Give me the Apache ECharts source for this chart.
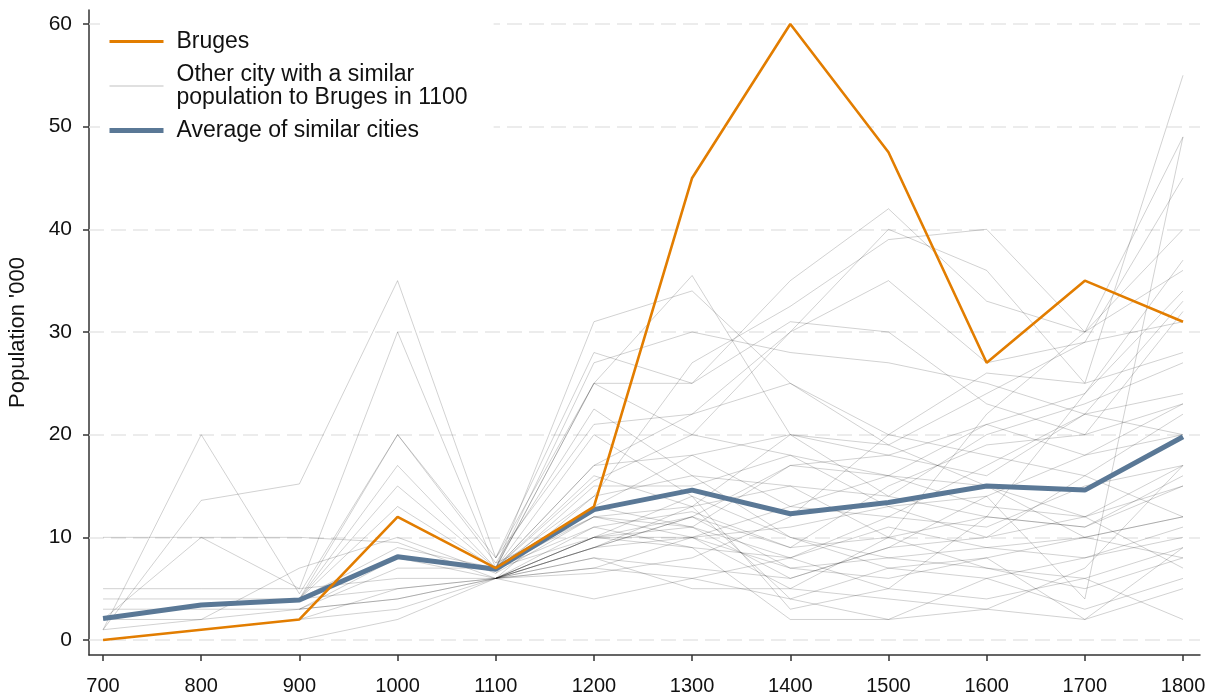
<!DOCTYPE html>
<html>
<head>
<meta charset="utf-8">
<script src="https://cdn.jsdelivr.net/npm/echarts@6/dist/echarts.min.js"></script>
<style>
  html, body { margin: 0; padding: 0; background: #fff; }
  #main { width: 1214px; height: 694px; }
</style>
</head>
<body>
<div id="main"></div>
<script>
// years on the x axis
const years = [700, 800, 900, 1000, 1100, 1200, 1300, 1400, 1500, 1600, 1700, 1800];
const yTicks = [0, 10, 20, 30, 40, 50, 60];

// population in thousands
const bruges = [0, 1, 2, 12, 7, 13, 45, 60, 47.5, 27, 35, 31];
const average = [2.1, 3.4, 3.9, 8.1, 6.9, 12.7, 14.6, 12.3, 13.4, 15, 14.6, 19.8];

// other cities with a similar population in 1100 (null = no data)
const otherCities = [
  [10, 10, 10, 9.5, 6, 10, 12, 9, 10, 12, 11, 16],
  [1, 20, 4.5, 20, 8, 25, 35.5, 20, 14, 12, 11, 15],
  [1, 13.6, 15.2, 35, 8, 28, 25, 35, 42, 33, 30, 49],
  [2, 10, 5, 30, 7, 31, 34, 25, 20, 26, 25, 55],
  [5, 5, 5, 6, 6, 9, 12, 7, 6, 8, 10, 12],
  [4, 4, 4, 5, 6, 7, 10, 5, 4, 3, 2, 5],
  [3, 3, 3, 4, 6, 10, 9, 8, 12, 11, 15, 17],
  [2, 2, 3, 4, 6, 8, 7, 6, 9, 10, 16, 22],
  [1, 2, 7, 10, 6.5, 12, 10, 11, 13, 14, 18, 20],
  [null, null, 0, 2, 6, 4, 6, 8, 5, 4, 6, 9],
  [null, null, 4, 20, 7.5, 22.5, 16, 15, 10, 7, 5, 8],
  [null, null, 4, 17, 7, 20, 14, 10, 7, 6, 8, 10],
  [null, null, 4, 15, 7, 17, 18, 13, 12, 17, 22, 24],
  [null, null, 4, 13, 7, 16, 13, 20, 19, 24, 29, 31],
  [null, null, 4, 9, 7, 15.5, 20, 30, 40, 36, 25, 28],
  [null, null, 3, 8, 6, 14, 27, 32.5, 39, 40, 30, 36],
  [null, null, 3, 7, 7, 13, 11, 17, 18, 21, 24, 34],
  [null, null, 2, 5, 6, 11, 12.5, 9, 15, 19, 20, 23],
  [null, null, 2, 3, 6, 10, 10, 7, 8, 9, 8, 11],
  [null, null, null, null, 7, 27, 30, 28, 27, 25, 22, 20],
  [null, null, null, null, 7, 25, 20, 18, 16, 15, 12, 7],
  [null, null, null, null, 8, 21, 22, 30, 35, 27, 29, 45],
  [null, null, null, null, 7, 25, 25, 31, 30, 23, 20, 32],
  [null, null, null, null, 6, 6.5, 8, 12, 20, 18, 16, 12],
  [null, null, null, null, 6, 9, 13, 4, 2, 6, 3, 6],
  [null, null, null, null, 7, 11, 9, 2, 2, 3, 7, 17],
  [null, null, null, null, 7, 12, 11, 6, 9, 14, 4, 49],
  [null, null, null, null, 6, 10, 14, 3, 5, 12, 24, 37],
  [null, null, null, null, 7, 13, 18, 20, 18, 16, 22, 33],
  [null, null, null, null, 6, 8, 5, 5, 10, 22, 30, 40],
  [null, null, null, null, 7, 14, 16, 10, 8, 7, 6, 2],
  [null, null, null, null, 7.5, 12, 13, 15, 14, 20, 23, 27],
  [null, null, null, null, 6, 9, 12, 17, 16, 13, 12, 15],
  [null, null, null, null, 7, 10, 11, 8, 11, 9, 10, 8],
  [null, null, null, null, 6, 7, 6, 4, 7, 8, 2, 9],
  [null, null, null, null, 6.5, 15, 15, 18, 13, 10, 12, 17],
  [null, null, null, null, 7, 17, 22, 25, 19, 15, 10, 12],
  [null, null, null, null, 6, 9, 10, 13, 16, 21, 18, 23]
];

const otherName = 'Other city with a similar population to Bruges in 1100';
const fontFamily = '"Liberation Sans", Arial, sans-serif';

function toPairs(values) {
  return years.map(function (y, i) {
    return [y, values[i] === null ? '-' : values[i]];
  });
}

let chart = echarts.init(document.getElementById('main'));

let series = otherCities.map(function (city, i) {
  let s = {
    name: otherName,
    type: 'line',
    symbol: 'none',
    silent: true,
    z: 2,
    lineStyle: { width: 1, color: 'rgba(0,0,0,0.18)' },
    data: toPairs(city)
  };
  if (i === 0) {
    // dashed horizontal gridlines
    s.markLine = {
      silent: true,
      z: 1,
      symbol: ['none', 'none'],
      label: { show: false },
      lineStyle: { type: [15, 7], color: '#e6e6e6', width: 1.5 },
      emphasis: { disabled: true },
      data: yTicks.map(function (v) { return { yAxis: v }; })
    };
  }
  return s;
});

series.push({
  name: 'Average of similar cities',
  type: 'line',
  symbol: 'none',
  z: 3,
  lineStyle: { width: 5, color: '#5a7896' },
  data: toPairs(average)
});
series.push({
  name: 'Bruges',
  type: 'line',
  symbol: 'none',
  z: 4,
  lineStyle: { width: 2.6, color: '#e27d00' },
  data: toPairs(bruges)
});

let option = {
  animation: false,
  backgroundColor: '#fff',
  grid: { left: 89, right: 14, top: 10, bottom: 39, outerBoundsMode: 'none', containLabel: false },
  legend: {
    orient: 'vertical',
    left: 100,
    top: 12,
    padding: [18, 26, 10, 7],
    backgroundColor: '#fff',
    itemWidth: 54,
    itemHeight: 14,
    itemGap: 10,
    selectedMode: false,
    itemStyle: { opacity: 0 },
    textStyle: { fontSize: 23, fontFamily: fontFamily, color: '#111', lineHeight: 23, padding: [0, 0, 0, 8] },
    formatter: function (name) {
      return name === otherName ? 'Other city with a similar\npopulation to Bruges in 1100' : name;
    },
    data: [
      { name: 'Bruges', itemStyle: { opacity: 0 }, lineStyle: { width: 3, color: '#e27d00' } },
      { name: otherName, itemStyle: { opacity: 0 }, lineStyle: { width: 2, color: '#e0e0e0' } },
      { name: 'Average of similar cities', itemStyle: { opacity: 0 }, lineStyle: { width: 5, color: '#5a7896' } }
    ]
  },
  xAxis: {
    type: 'value',
    min: 685.7,
    max: 1817.3,
    axisLine: { show: true, onZero: false, lineStyle: { color: '#333', width: 1.5 } },
    axisTick: { show: true, length: 6, customValues: years, lineStyle: { color: '#333', width: 1.5 } },
    axisLabel: {
      customValues: years, fontSize: 20, fontFamily: fontFamily, color: '#111', margin: 21,
      formatter: function (v) { return String(v); }
    },
    splitLine: { show: false }
  },
  yAxis: {
    type: 'value',
    min: -1.46,
    max: 61.36,
    name: "Population '000",
    nameLocation: 'middle',
    nameGap: 60,
    nameTextStyle: { fontSize: 22, fontFamily: fontFamily, color: '#111' },
    axisLine: { show: true, onZero: false, lineStyle: { color: '#333', width: 1.5 } },
    axisTick: { show: true, length: 6, customValues: yTicks, lineStyle: { color: '#333', width: 1.5 } },
    axisLabel: { customValues: yTicks, fontSize: 21, fontFamily: fontFamily, color: '#111', margin: 17 },
    splitLine: { show: false }
  },
  series: series
};

chart.setOption(option);
</script>
</body>
</html>
